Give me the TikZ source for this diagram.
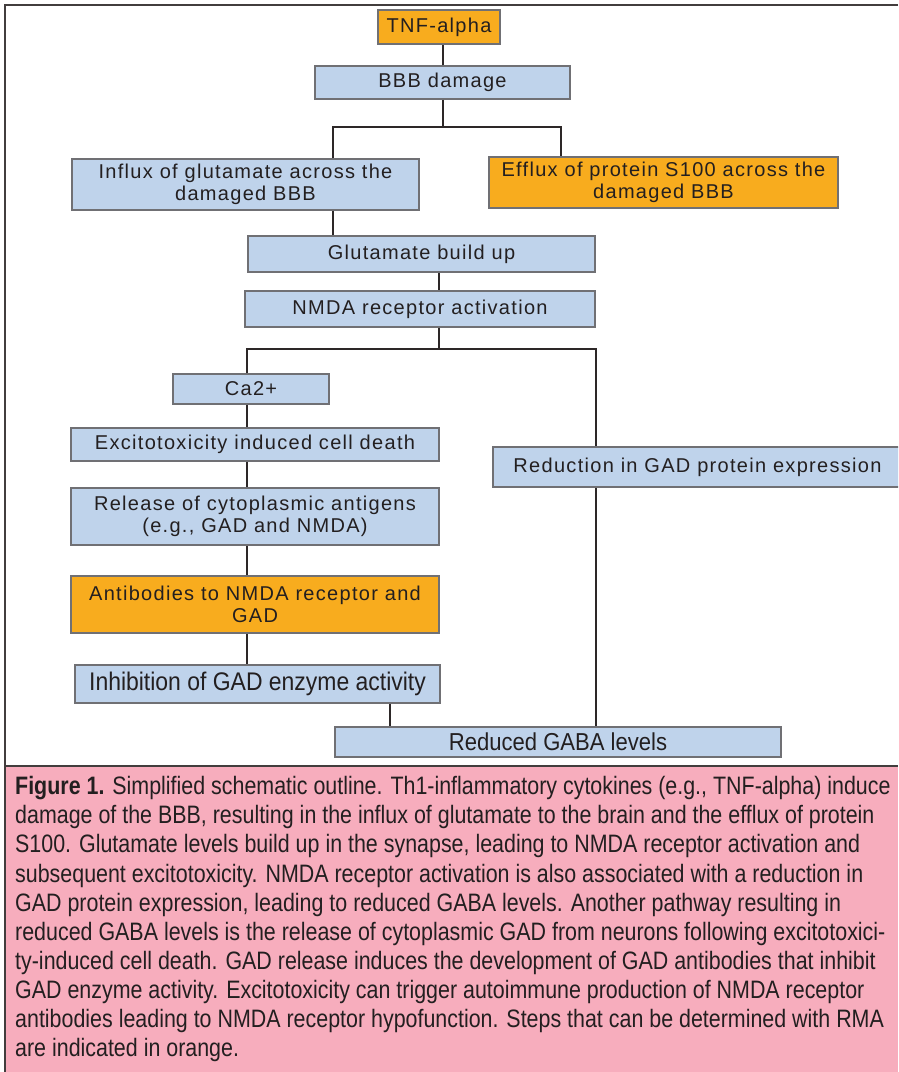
\documentclass[tikz,border=0pt]{standalone}
\usepackage{fontspec}
\setmainfont{Liberation Sans}
\newfontfamily\boxfont[LetterSpace=6.5]{Liberation Sans}
\newfontfamily\condfont[FakeStretch=0.9]{Liberation Sans}
\newfontfamily\capfont[FakeStretch=0.85]{Liberation Sans}
\definecolor{boxblue}{RGB}{191,211,235}
\definecolor{boxorange}{RGB}{248,172,30}
\definecolor{capink}{RGB}{247,173,189}
\definecolor{bordergray}{RGB}{112,112,116}
\definecolor{linecol}{RGB}{45,40,40}
\definecolor{txt}{RGB}{35,31,32}
\tikzset{
  box/.style={draw=bordergray, line width=1.5pt, inner sep=0pt, align=center,
    text=txt, font=\boxfont\fontsize{20}{22}\selectfont},
  bluebox/.style={box, fill=boxblue},
  orangebox/.style={box, fill=boxorange},
  condbox/.style={bluebox, font=\condfont\fontsize{24.5}{28}\selectfont},
  conn/.style={draw=linecol, line width=2pt},
  framel/.style={draw=linecol!90, line width=2pt}
}
\begin{document}
\begin{tikzpicture}[x=1pt,y=-1pt]
\useasboundingbox (0,0) rectangle (898,1072);
% caption background and frame
\fill[capink] (5,766) rectangle (898,1072);
\draw[framel] (898,5) -- (5,5) -- (5,1072);
\draw[framel] (5,766) -- (898,766);
% boxes
\node[orangebox, minimum width=122, minimum height=34] (tnf) at (439,27) {TNF-alpha};
\node[bluebox, minimum width=255, minimum height=33] (bbb) at (442.5,82.5) {BBB damage};
\node[bluebox, minimum width=347, minimum height=51] (influx) at (245.5,184.5) {Influx of glutamate across the\\damaged BBB};
\node[orangebox, minimum width=349, minimum height=51] (efflux) at (663.5,182.5) {Efflux of protein S100 across the\\damaged BBB};
\node[bluebox, minimum width=347, minimum height=36] (glut) at (421.5,254) {Glutamate build up};
\node[bluebox, minimum width=350, minimum height=36] (nmda) at (420,309) {NMDA receptor activation};
\node[bluebox, minimum width=156, minimum height=30] (ca) at (251,389) {Ca2+};
\node[bluebox, minimum width=368, minimum height=33] (excito) at (255,444.5) {Excitotoxicity induced cell death};
\node[bluebox, minimum width=368, minimum height=57] (release) at (255,516.5) {Release of cytoplasmic antigens\\(e.g., GAD and NMDA)};
\node[orangebox, minimum width=368, minimum height=57] (antib) at (255,604.5) {Antibodies to NMDA receptor and\\GAD};
\node[condbox, font=\condfont\fontsize{25.5}{28}\selectfont, minimum width=365, minimum height=38] (inhib) at (257.5,684) {Inhibition of GAD enzyme activity};
\node[condbox, minimum width=446, minimum height=30] (gaba) at (558,742) {Reduced GABA levels};
\begin{scope}
\clip (0,0) rectangle (898,1072);
\node[bluebox, minimum width=409, minimum height=40] (reduct) at (697.5,467) {Reduction in GAD protein expression};
\end{scope}
% junction coordinates
\coordinate (j1) at (442.5,127);
\coordinate (jl) at (333,127);
\coordinate (jr) at (561,127);
\coordinate (k1) at (439,349);
\coordinate (kl) at (247,349);
\coordinate (kr) at (596,349);
\coordinate (m1) at (390,700);
% connectors
\draw[conn] (bbb.north) -- (bbb.north |- tnf.south);
\draw[conn] (bbb.south) -- (j1);
\draw[conn] (jl |- influx.north) -- (jl) -- (jr) -- (jr |- efflux.north);
\draw[conn] (jl |- influx.south) -- (jl |- glut.north);
\draw[conn] (k1 |- glut.south) -- (k1 |- nmda.north);
\draw[conn] (k1 |- nmda.south) -- (k1);
\draw[conn] (kl |- ca.north) -- (kl) -- (kr) -- (kr |- reduct.north);
\draw[conn] (kl |- ca.south) -- (kl |- excito.north);
\draw[conn] (kl |- excito.south) -- (kl |- release.north);
\draw[conn] (kl |- release.south) -- (kl |- antib.north);
\draw[conn] (kl |- antib.south) -- (kl |- inhib.north);
\draw[conn] (m1 |- inhib.south) -- (m1 |- gaba.north);
\draw[conn] (kr |- reduct.south) -- (kr |- gaba.north);
% caption
\node[anchor=north west, align=left, inner sep=0pt, text=txt,
  font=\capfont\fontsize{25.2}{29.1}\selectfont] (cap) at (15,776.3)
{\textbf{Figure 1.} Simplified schematic outline. Th1-inflammatory cytokines (e.g., TNF-alpha) induce\\
damage of the BBB, resulting in the influx of glutamate to the brain and the efflux of protein\\
S100. Glutamate levels build up in the synapse, leading to NMDA receptor activation and\\
subsequent excitotoxicity. NMDA receptor activation is also associated with a reduction in\\
GAD protein expression, leading to reduced GABA levels. Another pathway resulting in\\
reduced GABA levels is the release of cytoplasmic GAD from neurons following excitotoxici-\\
ty-induced cell death. GAD release induces the development of GAD antibodies that inhibit\\
GAD enzyme activity. Excitotoxicity can trigger autoimmune production of NMDA receptor\\
antibodies leading to NMDA receptor hypofunction. Steps that can be determined with RMA\\
are indicated in orange.};
\end{tikzpicture}
\end{document}
